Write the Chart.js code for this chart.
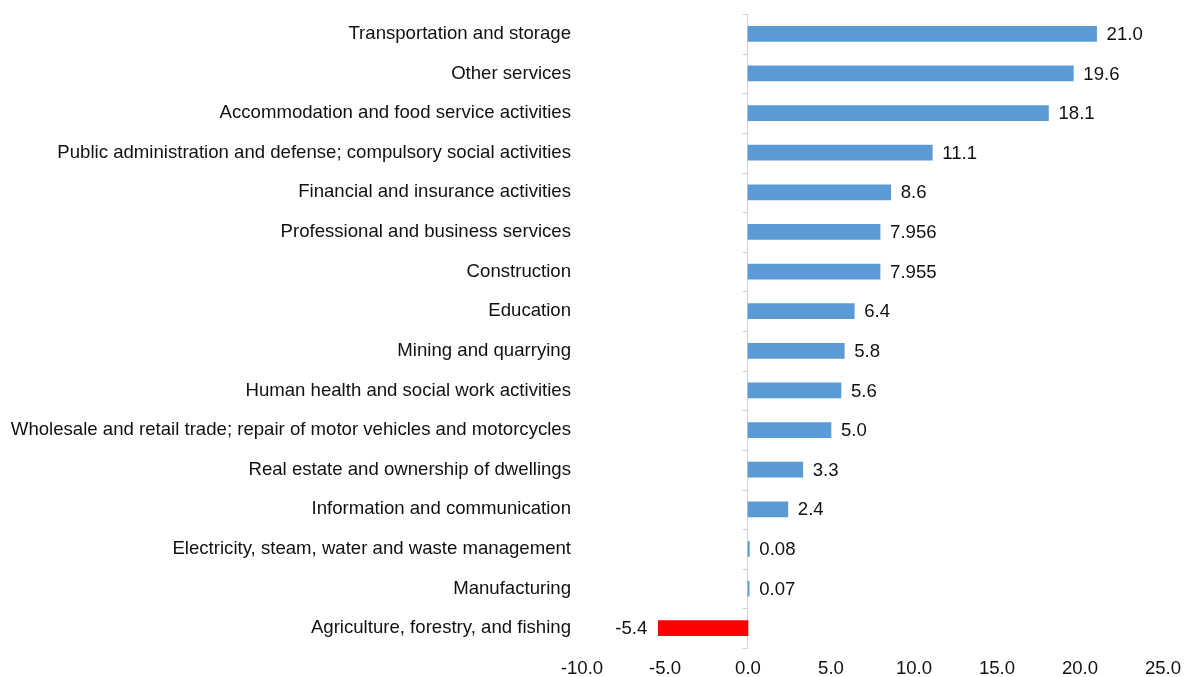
<!DOCTYPE html>
<html>
<head>
<meta charset="utf-8">
<script src="https://cdn.jsdelivr.net/npm/chart.js@4"></script>
<style>
  html, body { margin: 0; padding: 0; background: #fff; }
  #wrap { width: 1185px; height: 677px; }
</style>
</head>
<body>
<div id="wrap"><canvas id="chart" width="1185" height="677"></canvas></div>
<script>
// categories and values, top to bottom
const sectors = [
    'Transportation and storage',
    'Other services',
    'Accommodation and food service activities',
    'Public administration and defense; compulsory social activities',
    'Financial and insurance activities',
    'Professional and business services',
    'Construction',
    'Education',
    'Mining and quarrying',
    'Human health and social work activities',
    'Wholesale and retail trade; repair of motor vehicles and motorcycles',
    'Real estate and ownership of dwellings',
    'Information and communication',
    'Electricity, steam, water and waste management',
    'Manufacturing',
    'Agriculture, forestry, and fishing'
];
const growth = [21.0, 19.6, 18.1, 11.1, 8.6, 7.956, 7.955, 6.4, 5.8, 5.6, 5.0, 3.3, 2.4, 0.08, 0.07, -5.4];
const xTicks = [-10, -5, 0, 5, 10, 15, 20, 25];

const fontFamily = '"Liberation Sans", Arial, sans-serif';
const fontSize = 18.6;

function fmt(v) {
    let t = v * 10;
    if (Math.abs(t - Math.round(t)) < 1e-9) return v.toFixed(1);
    return String(v);
}

// zero axis line with small ticks between categories (under the bars), then value labels
const zeroAxis = {
    id: 'zeroAxis',
    beforeDatasetsDraw(chart) {
        const ctx = chart.ctx;
        const x = chart.scales.x;
        const y = chart.scales.y;
        const x0 = Math.round(x.getPixelForValue(0)) - 0.5;
        const band = y.getPixelForValue(1) - y.getPixelForValue(0);
        ctx.save();
        ctx.strokeStyle = '#d0d0d0';
        ctx.lineWidth = 1;
        ctx.beginPath();
        ctx.moveTo(x0, y.top);
        ctx.lineTo(x0, y.bottom);
        for (let i = 0; i <= sectors.length; i++) {
            let py = Math.round(y.getPixelForValue(i) - band / 2) + 0.5;
            ctx.moveTo(x0 - 5, py);
            ctx.lineTo(x0, py);
        }
        ctx.stroke();
        ctx.restore();
    },
    afterDatasetsDraw(chart) {
        const ctx = chart.ctx;
        const x0 = chart.scales.x.getPixelForValue(0);
        ctx.save();
        ctx.font = fontSize + 'px ' + fontFamily;
        ctx.fillStyle = '#111';
        ctx.textBaseline = 'middle';
        chart.getDatasetMeta(0).data.forEach((bar, i) => {
            const v = growth[i];
            if (v >= 0) {
                ctx.textAlign = 'left';
                ctx.fillText(fmt(v), Math.max(bar.x, x0) + 10, bar.y + 1);
            } else {
                ctx.textAlign = 'right';
                ctx.fillText(fmt(v), bar.x - 11, bar.y + 1);
            }
        });
        ctx.restore();
    }
};

new Chart(document.getElementById('chart'), {
    type: 'bar',
    data: {
        labels: sectors,
        datasets: [{
            data: growth,
            backgroundColor: growth.map(v => v < 0 ? '#ff0000' : '#5b9bd5'),
            barThickness: 15,
            borderWidth: 0
        }]
    },
    options: {
        indexAxis: 'y',
        responsive: false,
        animation: false,
        layout: { padding: { top: 14, right: 22, left: 0, bottom: 0 } },
        plugins: {
            legend: { display: false },
            tooltip: { enabled: false }
        },
        scales: {
            x: {
                min: -10,
                max: 25,
                afterBuildTicks: (scale) => { scale.ticks = xTicks.map(v => ({ value: v })); },
                afterFit: (scale) => {
                    scale.height = 29;
                    scale.paddingLeft = 0;
                    scale.paddingRight = 0;
                },
                grid: { display: false, drawTicks: false },
                border: { display: false },
                ticks: {
                    padding: 10,
                    color: '#111',
                    maxRotation: 0,
                    font: { family: fontFamily, size: fontSize },
                    callback: (v) => Number(v).toFixed(1)
                }
            },
            y: {
                afterFit: (scale) => {
                    scale.width = 582;
                    scale.paddingTop = 0;
                    scale.paddingBottom = 0;
                },
                grid: { display: false, drawTicks: false },
                border: { display: false },
                ticks: {
                    padding: 11,
                    color: '#111',
                    autoSkip: false,
                    font: { family: fontFamily, size: fontSize }
                }
            }
        }
    },
    plugins: [zeroAxis]
});
</script>
</body>
</html>
